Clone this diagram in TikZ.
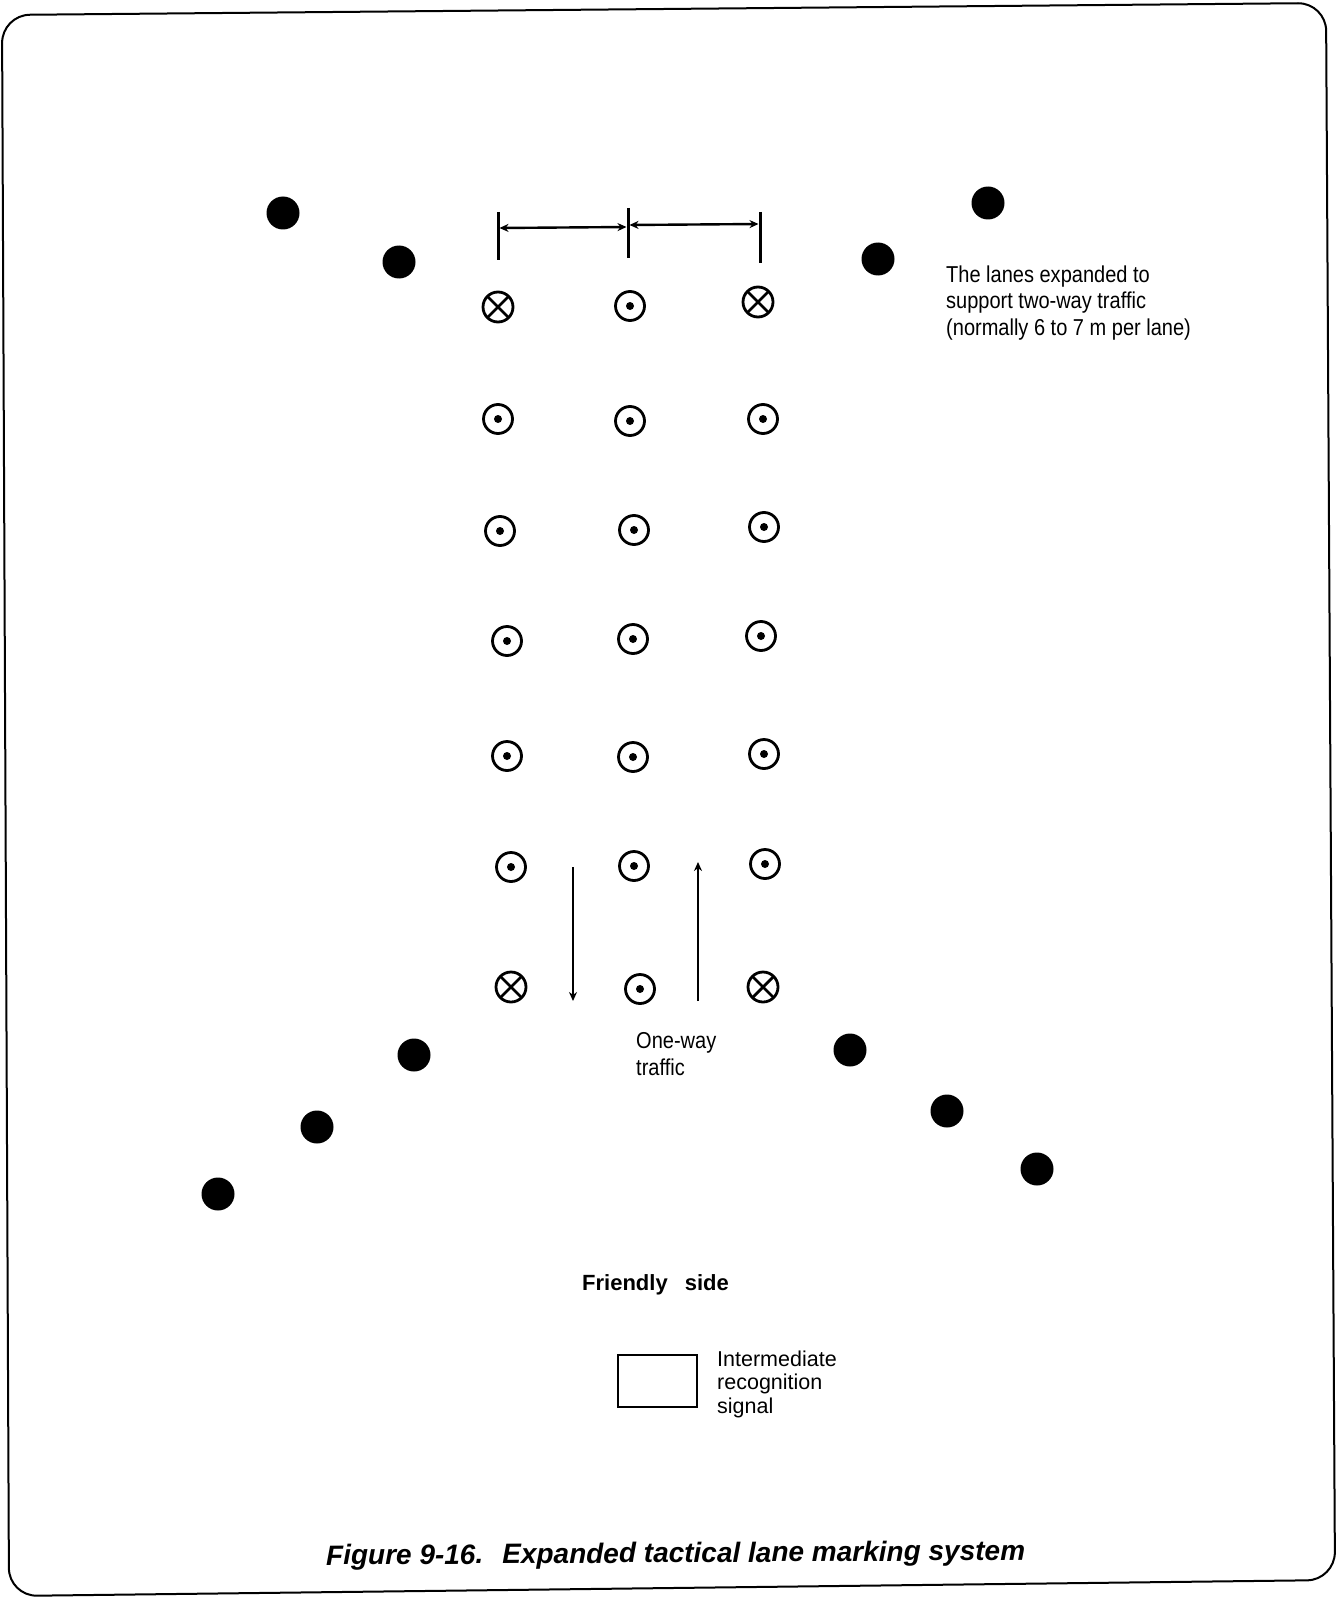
\documentclass[tikz,border=0pt]{standalone}
\usepackage{fontspec}
\setmainfont{Liberation Sans}
\newfontfamily\condfont{Liberation Sans}[FakeStretch=0.87]
\usetikzlibrary{arrows.meta}
\tikzset{
  blackdot/.style={circle,fill=black,draw=none,minimum size=33pt,inner sep=0pt},
  dotmark/.style={circle,draw=black,line width=2.8pt,minimum size=29pt,inner sep=0pt,
    path picture={\fill[black] (path picture bounding box.center) circle (4pt);}},
  crossmark/.style={circle,draw=black,line width=2.8pt,minimum size=30pt,inner sep=0pt,
    path picture={\draw[line width=2.8pt] ([shift={(45:17pt)}]path picture bounding box.center) -- ([shift={(225:17pt)}]path picture bounding box.center)
      ([shift={(135:17pt)}]path picture bounding box.center) -- ([shift={(315:17pt)}]path picture bounding box.center);}},
  tickline/.style={line width=3pt},
  dimarrow/.style={line width=2.4pt,{Stealth[length=9pt,width=8pt]}-{Stealth[length=9pt,width=8pt]}},
  traffic/.style={line width=2.8pt,-{Stealth[length=9pt,width=8pt]}},
  condtext/.style={font=\condfont\fontsize{23}{26.5}\selectfont,align=left,inner sep=0pt},
  legtext/.style={font=\fontsize{21.5}{23.5}\selectfont,align=left,inner sep=0pt},
}
\begin{document}
\begin{tikzpicture}[x=1pt,y=-1pt]
\useasboundingbox (0,0) rectangle (1335,1597);
\fill[white] (0,0) rectangle (1335,1597);
% frame
\draw[line width=2pt,rounded corners=28pt] (2,15) -- (1326,3) -- (1335,1580) -- (9,1596) -- cycle;

% black dots (lane entrance/exit markers)
\node[blackdot] (b1) at (283,213) {};
\node[blackdot] (b2) at (399,262) {};
\node[blackdot] (b3) at (988,203) {};
\node[blackdot] (b4) at (878,259) {};
\node[blackdot] (b5) at (414,1055) {};
\node[blackdot] (b6) at (317,1127) {};
\node[blackdot] (b7) at (218,1194) {};
\node[blackdot] (b8) at (850,1050) {};
\node[blackdot] (b9) at (947,1111) {};
\node[blackdot] (b10) at (1037,1169) {};

% lane markers
\node[crossmark] (m11) at (498,307) {};
\node[dotmark]   (m12) at (630,306) {};
\node[crossmark] (m13) at (758,302) {};
\node[dotmark] (m21) at (498,419) {};
\node[dotmark] (m22) at (630,421) {};
\node[dotmark] (m23) at (763,419) {};
\node[dotmark] (m31) at (500,531) {};
\node[dotmark] (m32) at (634,530) {};
\node[dotmark] (m33) at (764,527) {};
\node[dotmark] (m41) at (507,641) {};
\node[dotmark] (m42) at (633,639) {};
\node[dotmark] (m43) at (761,636) {};
\node[dotmark] (m51) at (507,756) {};
\node[dotmark] (m52) at (633,757) {};
\node[dotmark] (m53) at (764,754) {};
\node[dotmark] (m61) at (511,867) {};
\node[dotmark] (m62) at (634,866) {};
\node[dotmark] (m63) at (765,864) {};
\node[crossmark] (m71) at (511,987) {};
\node[dotmark]   (m72) at (640,989) {};
\node[crossmark] (m73) at (763,987) {};

% lane width dimension
\coordinate (t1a) at (498,212); \coordinate (t1b) at (498,260);
\coordinate (t2a) at (628,208); \coordinate (t2b) at (628,258);
\coordinate (t3a) at (760,212); \coordinate (t3b) at (760,263);
\draw[tickline] (t1a) -- (t1b);
\draw[tickline] (t2a) -- (t2b);
\draw[tickline] (t3a) -- (t3b);
\coordinate (d1) at (499.5,228); \coordinate (d2) at (626.5,227);
\coordinate (d3) at (629.5,225); \coordinate (d4) at (758.5,224);
\draw[dimarrow] (d1) -- (d2);
\draw[dimarrow] (d3) -- (d4);

% one-way traffic arrows
\coordinate (da) at (573,867); \coordinate (db) at (573,1001);
\coordinate (ua) at (698,1001); \coordinate (ub) at (698,862);
\draw[traffic] (da) -- (db);
\draw[traffic] (ua) -- (ub);

% texts (base anchor = baseline of last line)
\node[condtext,anchor=base west] (lanes) at (946,335)
  {The lanes expanded to\\support two-way traffic\\(normally 6 to 7 m per lane)};
\node[condtext,anchor=base west] (oneway) at (636,1075) {One-way\\traffic};
\node[font=\bfseries\fontsize{22}{24}\selectfont,inner sep=0pt,anchor=base west] (friendly) at (582,1290)
  {Friendly\hspace{17pt}side};

% legend
\node[draw=black,line width=2.2pt,minimum width=79pt,minimum height=52pt,inner sep=0pt] (legbox) at (657.5,1381) {};
\node[legtext,anchor=base west] (legtxt) at (717,1413) {Intermediate\\recognition\\signal};

% caption
\node[font=\bfseries\itshape\fontsize{28}{30}\selectfont,inner sep=0pt,anchor=base west,rotate=0.4] (caption) at (326,1565)
  {Figure 9-16.\hspace{19pt}Expanded tactical lane marking system};
\end{tikzpicture}
\end{document}
